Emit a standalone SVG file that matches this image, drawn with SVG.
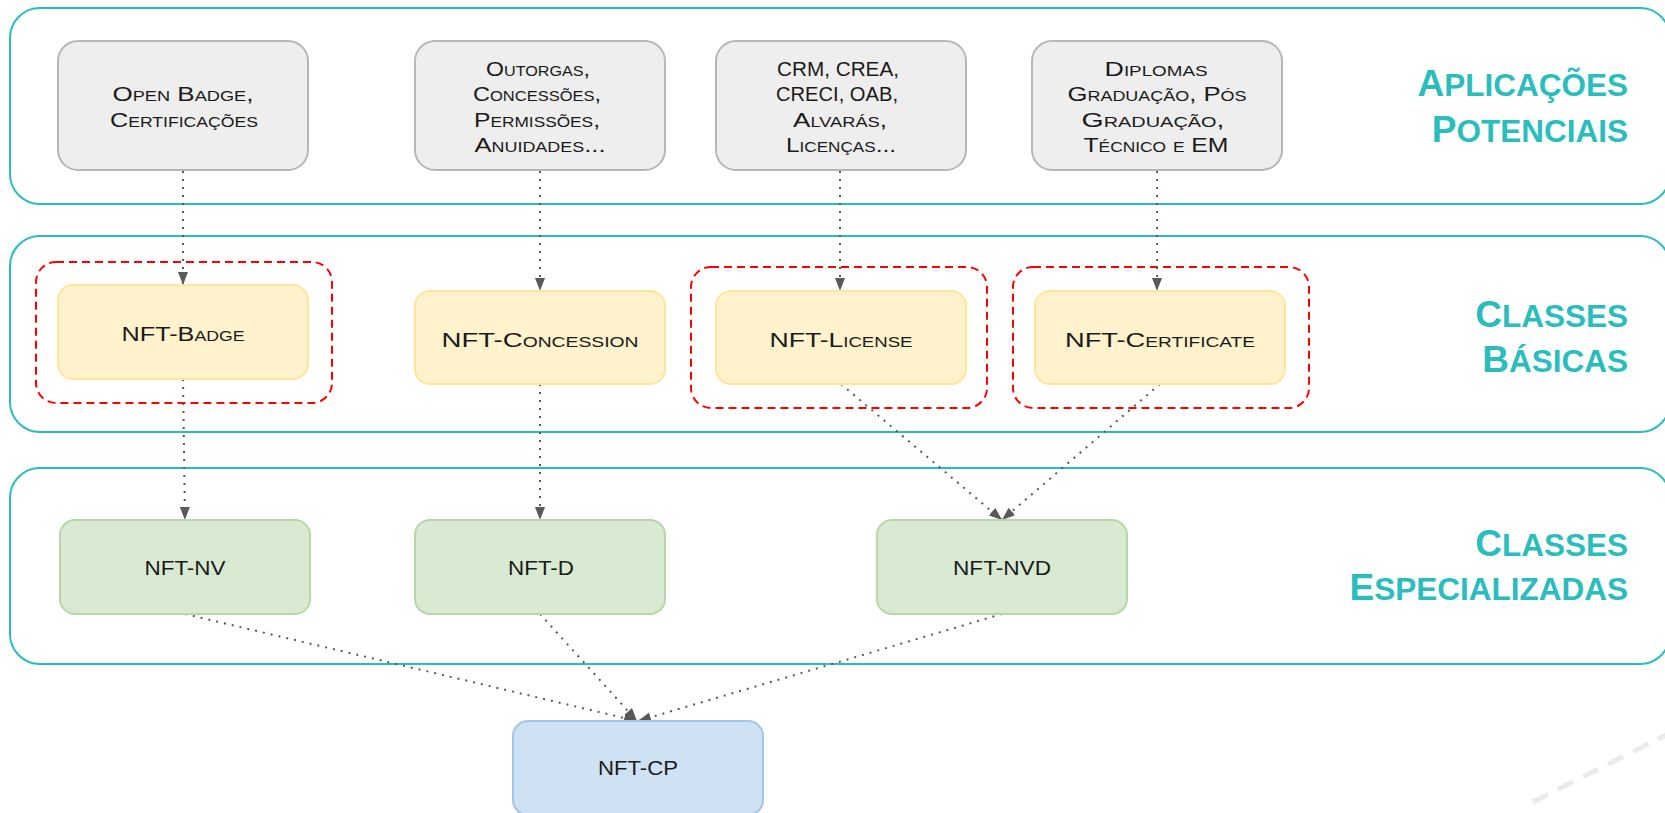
<svg xmlns="http://www.w3.org/2000/svg" width="1665" height="813" viewBox="0 0 1665 813">
<defs>
<style>
.band{fill:#ffffff;stroke:#2bbdbd;stroke-width:2}
.grp{fill:none;stroke:#ff0000;stroke-width:2;stroke-dasharray:8 5}
.app{fill:#eeeeee;stroke:#b7b7b7;stroke-width:2}
.basic{fill:#fff2cc;stroke:#ffe599;stroke-width:2}
.spec{fill:#d9ead3;stroke:#b6d7a8;stroke-width:2}
.cp{fill:#cfe2f3;stroke:#9fc5e8;stroke-width:2}
.t{font-family:"Liberation Sans",Arial,sans-serif;font-size:20px;font-variant:small-caps;fill:#1a1a1a;text-anchor:middle}
.title{font-family:"Liberation Sans",Arial,sans-serif;font-weight:bold;font-size:37px;fill:#2bbdbd;text-anchor:end}
.sc{font-size:31.5px}
.edge{fill:none;stroke:#595959;stroke-width:2;stroke-dasharray:2 6}
</style>
<marker id="arr" markerUnits="userSpaceOnUse" markerWidth="14" markerHeight="11" refX="13" refY="5" orient="auto">
<path d="M0,0 L13,5 L0,10 z" fill="#595959"/>
</marker>
</defs>

<g id="bands">
<rect id="band-aplicacoes" class="band" x="10" y="8" width="1660" height="196" rx="30"/>
<rect id="band-basicas" class="band" x="10" y="236" width="1660" height="196" rx="30"/>
<rect id="band-especializadas" class="band" x="10" y="468" width="1660" height="196" rx="30"/>
</g>

<line x1="1533" y1="802" x2="1680" y2="728" stroke="#ebebeb" stroke-width="5" stroke-dasharray="17 11"/>

<g id="titles">
<text class="title" x="1628" y="96"><tspan>A</tspan><tspan class="sc">PLICAÇÕES</tspan></text>
<text class="title" x="1628" y="142"><tspan>P</tspan><tspan class="sc">OTENCIAIS</tspan></text>
<text class="title" x="1628" y="327"><tspan>C</tspan><tspan class="sc">LASSES</tspan></text>
<text class="title" x="1628" y="372"><tspan>B</tspan><tspan class="sc">ÁSICAS</tspan></text>
<text class="title" x="1628" y="556"><tspan>C</tspan><tspan class="sc">LASSES</tspan></text>
<text class="title" x="1628" y="600"><tspan>E</tspan><tspan class="sc">SPECIALIZADAS</tspan></text>
</g>

<g id="groups">
<rect id="grp-badge" class="grp" x="36" y="262" width="296" height="141" rx="20"/>
<rect id="grp-license" class="grp" x="691" y="267" width="296" height="141" rx="20"/>
<rect id="grp-certificate" class="grp" x="1013" y="267" width="296" height="141" rx="20"/>
</g>

<g id="connectors">
<line class="edge" x1="183" y1="171" x2="183" y2="285" marker-end="url(#arr)"/>
<line class="edge" x1="540" y1="171" x2="540" y2="291" marker-end="url(#arr)"/>
<line class="edge" x1="840" y1="171" x2="840" y2="291" marker-end="url(#arr)"/>
<line class="edge" x1="1157" y1="171" x2="1157" y2="291" marker-end="url(#arr)"/>
<line class="edge" x1="183" y1="379" x2="185" y2="520" marker-end="url(#arr)"/>
<line class="edge" x1="540" y1="384" x2="540" y2="520" marker-end="url(#arr)"/>
<line class="edge" x1="841" y1="384" x2="1002" y2="520" marker-end="url(#arr)"/>
<line class="edge" x1="1160" y1="384" x2="1002" y2="520" marker-end="url(#arr)"/>
<line class="edge" x1="185" y1="614" x2="637" y2="721" marker-end="url(#arr)"/>
<line class="edge" x1="540" y1="614" x2="637" y2="721" marker-end="url(#arr)"/>
<line class="edge" x1="1002" y1="614" x2="638" y2="721" marker-end="url(#arr)"/>
</g>

<g id="app-openbadge">
<rect class="app" x="58" y="41" width="250" height="129" rx="20"/>
<text class="t" x="183" y="101" textLength="141" lengthAdjust="spacingAndGlyphs">Open Badge,</text>
<text class="t" x="184" y="126.5" textLength="148" lengthAdjust="spacingAndGlyphs">Certificações</text>
</g>
<g id="app-outorgas">
<rect class="app" x="415" y="41" width="250" height="129" rx="20"/>
<text class="t" x="538" y="75.5" textLength="104" lengthAdjust="spacingAndGlyphs">Outorgas,</text>
<text class="t" x="537" y="101" textLength="128" lengthAdjust="spacingAndGlyphs">Concessões,</text>
<text class="t" x="537" y="126.5" textLength="126" lengthAdjust="spacingAndGlyphs">Permissões,</text>
<text class="t" x="540" y="152" textLength="131" lengthAdjust="spacingAndGlyphs">Anuidades...</text>
</g>
<g id="app-crm">
<rect class="app" x="716" y="41" width="250" height="129" rx="20"/>
<text class="t" x="838" y="75.5" textLength="122" lengthAdjust="spacingAndGlyphs">CRM, CREA,</text>
<text class="t" x="837" y="101" textLength="122" lengthAdjust="spacingAndGlyphs">CRECI, OAB,</text>
<text class="t" x="840" y="126.5" textLength="94" lengthAdjust="spacingAndGlyphs">Alvarás,</text>
<text class="t" x="841" y="152" textLength="110" lengthAdjust="spacingAndGlyphs">Licenças...</text>
</g>
<g id="app-diplomas">
<rect class="app" x="1032" y="41" width="250" height="129" rx="20"/>
<text class="t" x="1156" y="75.5" textLength="103" lengthAdjust="spacingAndGlyphs">Diplomas</text>
<text class="t" x="1157" y="101" textLength="179" lengthAdjust="spacingAndGlyphs">Graduação, Pós</text>
<text class="t" x="1153" y="126.5" textLength="143" lengthAdjust="spacingAndGlyphs">Graduação,</text>
<text class="t" x="1156" y="152" textLength="145" lengthAdjust="spacingAndGlyphs">Técnico e EM</text>
</g>

<g id="nft-badge">
<rect class="basic" x="58" y="285" width="250" height="94" rx="15"/>
<text class="t" x="183" y="341" textLength="123" lengthAdjust="spacingAndGlyphs">NFT-Badge</text>
</g>
<g id="nft-concession">
<rect class="basic" x="415" y="291" width="250" height="93" rx="15"/>
<text class="t" x="540" y="347" textLength="197" lengthAdjust="spacingAndGlyphs">NFT-Concession</text>
</g>
<g id="nft-license">
<rect class="basic" x="716" y="291" width="250" height="93" rx="15"/>
<text class="t" x="841" y="347" textLength="143" lengthAdjust="spacingAndGlyphs">NFT-License</text>
</g>
<g id="nft-certificate">
<rect class="basic" x="1035" y="291" width="250" height="93" rx="15"/>
<text class="t" x="1160" y="347" textLength="190" lengthAdjust="spacingAndGlyphs">NFT-Certificate</text>
</g>

<g id="nft-nv">
<rect class="spec" x="60" y="520" width="250" height="94" rx="15"/>
<text class="t" x="185" y="575" textLength="81" lengthAdjust="spacingAndGlyphs">NFT-NV</text>
</g>
<g id="nft-d">
<rect class="spec" x="415" y="520" width="250" height="94" rx="15"/>
<text class="t" x="541" y="575" textLength="66" lengthAdjust="spacingAndGlyphs">NFT-D</text>
</g>
<g id="nft-nvd">
<rect class="spec" x="877" y="520" width="250" height="94" rx="15"/>
<text class="t" x="1002" y="575" textLength="98" lengthAdjust="spacingAndGlyphs">NFT-NVD</text>
</g>
<g id="nft-cp">
<rect class="cp" x="513" y="721" width="250" height="94" rx="15"/>
<text class="t" x="638" y="775" textLength="80" lengthAdjust="spacingAndGlyphs">NFT-CP</text>
</g>
</svg>
